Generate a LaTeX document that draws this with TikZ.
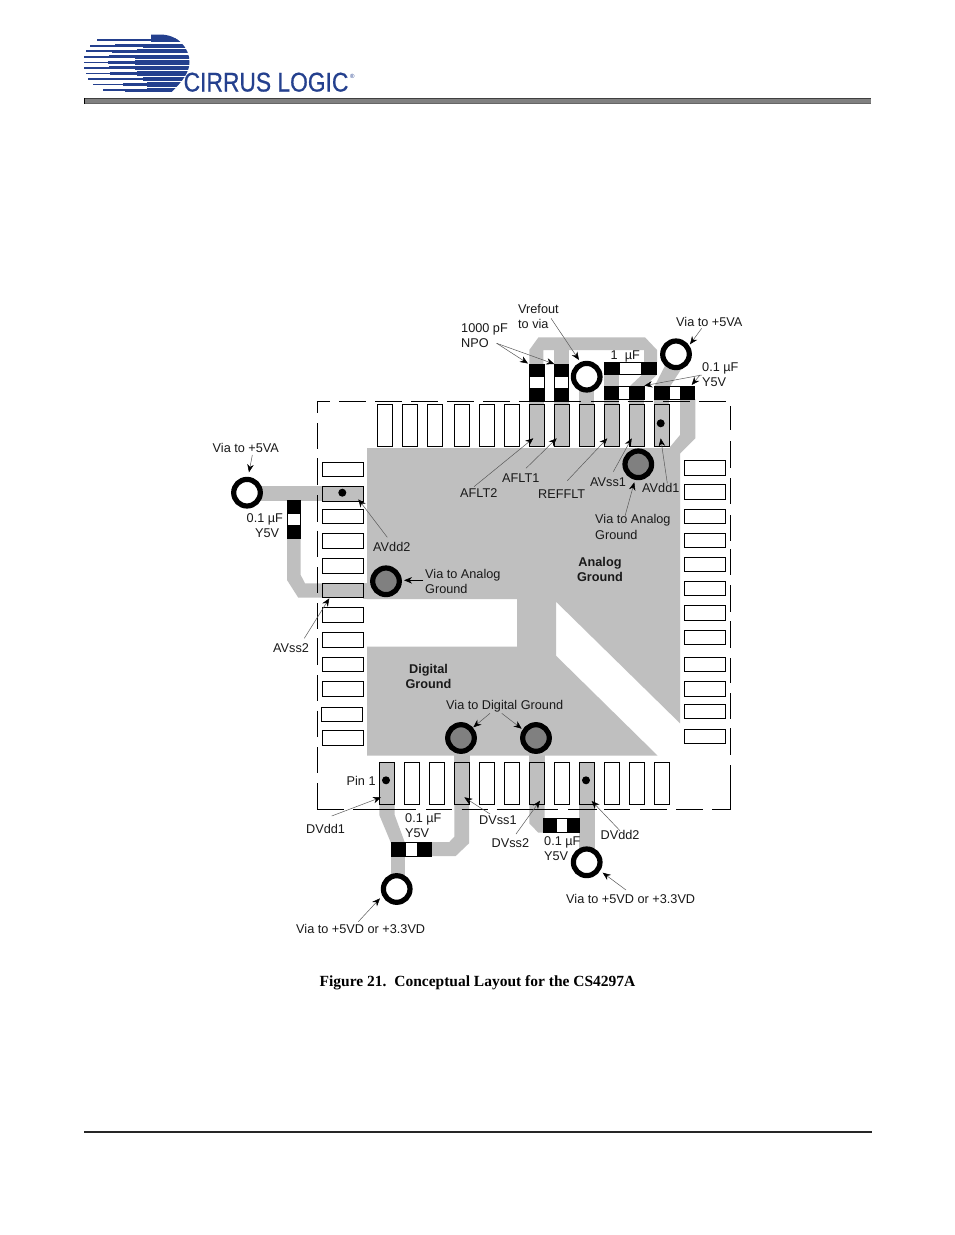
\documentclass[tikz,border=0pt]{standalone}
\usepackage{fontspec}
\setmainfont{Liberation Sans}
\newfontfamily\capfont{Liberation Serif}
\newfontfamily\logofont[FakeBold=0.7]{Liberation Sans}
\usetikzlibrary{arrows.meta}
\definecolor{plane}{gray}{0.75}
\definecolor{viagray}{gray}{0.5}
\definecolor{cirrus}{HTML}{24408E}
\tikzset{
  lab/.style={anchor=base west,inner sep=0pt,font=\fontsize{12.7}{15}\selectfont,text=black!90},
  boldlab/.style={anchor=base,inner sep=0pt,font=\fontsize{12.7}{15}\selectfont\bfseries,text=black!90},
  pinbox/.style={draw=black,line width=0.9pt,fill=white},
  gpinbox/.style={draw=black,line width=0.9pt,fill=plane},
  leadline/.style={draw=black!65,line width=0.5pt,-{Stealth[black,length=8pt,width=6.5pt]}},
  viaring/.style={draw=black,line width=5.2pt},
  edgeline/.style={draw=black,line width=1pt},
  dotmark/.style={fill=black,draw=none}
}
\newcommand{\tpin}[3]{\draw[#3] (#1,#2) rectangle ++(15,42);}
\newcommand{\lpin}[3]{\draw[pinbox] (#1,#2) rectangle (#1+41.4,#3);}
\newcommand{\hcap}[6]{\fill[black] (#1,#5) rectangle (#4,#6);\fill[white] (#2,#5+1) rectangle (#3,#6-1);\fill[black] (#1,#5) rectangle (#2,#6);\fill[black] (#3,#5) rectangle (#4,#6);}
\newcommand{\vcap}[6]{\fill[black] (#1,#3) rectangle (#2,#6);\fill[white] (#1+1,#4) rectangle (#2-1,#5);}
\newcommand{\lead}[4]{\draw[leadline] (#1,#2) -- (#3,#4);}
\newcommand{\cband}[4]{%
  \fill[cirrus] (#2,#1-0.8) rectangle (#3,#1+0.8);
  \fill[cirrus] (#3,#1-1.4) rectangle (#4,#1+1.4);
  \fill[cirrus] (#4,#1-2.25) rectangle (200,#1+2.25);}
\begin{document}
\begin{tikzpicture}[x=1pt,y=-1pt]
\useasboundingbox (0,0) rectangle (954,1235);
\fill[white] (0,0) rectangle (954,1235);

% ---------- logo
\begin{scope}
\clip (80,34.5) -- (160,34.5) .. controls (178,34.5) and (189.5,48) .. (189.5,62) .. controls (189.5,72) and (183,81) .. (171,92.5) -- (80,92.5) -- cycle;
\cband{40.2}{96.7}{151}{151}
\fill[cirrus] (151,34) rectangle (200,42.4);
\cband{45.8}{90}{115}{143}
\cband{51.2}{85.7}{111.7}{136.7}
\cband{56.8}{84.3}{109.3}{135}
\cband{62.3}{84}{108.3}{135}
\cband{67.8}{84.3}{109.3}{135}
\cband{73.3}{85.7}{110}{136.7}
\cband{79}{88.3}{113.3}{143}
\cband{84.5}{93.3}{123.3}{146.7}
\cband{90.2}{103.3}{125}{146.7}
\end{scope}
\node[anchor=base west,inner sep=0pt,xscale=0.845,text=cirrus,font=\logofont\fontsize{27}{30}\selectfont] (logotext) at (183.5,91.5) {CIRRUS LOGIC};
\node[anchor=base west,inner sep=0pt,text=cirrus,font=\fontsize{6}{7}\selectfont] (logomark) at (350,78.5) {®};
% header and footer rules
\fill[black!75] (84,97.7) rectangle (871,99);
\fill[viagray] (84,99) rectangle (871,103);
\fill[black!60] (84,103) rectangle (871,104.2);
\fill[black] (84,97.7) rectangle (85,104.2);
\fill[black!85] (84,1131.3) rectangle (871.5,1133.2);

% ---------- ground planes
\fill[plane] (367,448) -- (680,448) -- (680,723.3) -- (556,601.7) -- (556,655.7) -- (657.7,755.7) -- (367,755.7) -- (367,646.7) -- (517,646.7) -- (517,599) -- (367,599) -- cycle;

% ---------- traces
\fill[plane] (529.3,364) -- (529.3,350) -- (538.5,337.3) -- (645,337.3) -- (657,350) -- (657,362) -- (644,362) -- (644,350) -- (543.3,350) -- (543.3,364) -- cycle;
\fill[plane] (554.3,349) rectangle (569.3,365);
\fill[plane] (641.7,375) -- (630,386) -- (645,386) -- (656.7,375) -- cycle;
\fill[plane] (604.3,375) rectangle (618.6,386);
\fill[plane] (654.3,386.5) -- (670,386.5) -- (682,368) -- (668,360) -- cycle;
\foreach \px in {529.3,554.3,579.3,604.3,629.3,654.3} {\fill[plane] (\px,389) rectangle (\px+15,406);}
\fill[plane] (680,399) -- (695.3,399) -- (695.3,438.3) -- (676.7,457) -- (670,457) -- (670,447) -- (680,435) -- cycle;
\fill[plane] (247,486) rectangle (323,500.7);
\fill[plane] (287,538) -- (300.7,538) -- (300.7,575) -- (305,583.3) -- (323,583.3) -- (323,597.7) -- (298.3,597.7) -- (287,580) -- cycle;
\fill[plane] (363,583.3) rectangle (368,598.5);
% bottom traces
\fill[plane] (379.3,804) -- (394.7,804) -- (394.7,815) -- (405,843) -- (391,843) -- (379.3,815) -- cycle;
\fill[plane] (391,856) rectangle (405,882);
\fill[plane] (454.3,804) -- (469,804) -- (469,843.3) -- (455.7,856) -- (431,856) -- (431,842) -- (449.3,842) -- (454.3,836.7) -- cycle;
\fill[plane] (529.3,804) -- (544.5,804) -- (544.5,819) -- (544,832.7) -- (538.3,832.7) -- (529.3,823.3) -- cycle;
\fill[plane] (579.3,804) rectangle (594.5,860);
\fill[plane] (454.3,754) rectangle (469.7,763);
\fill[plane] (529.3,754) rectangle (544.7,763);

% ---------- pins, top row
\foreach \px in {377.5,402.5,427.5,454.3,479.3,504.3} {\tpin{\px}{404.8}{pinbox}}
\foreach \px in {529.3,554.3,579.3,604.3,629.3,654.3} {\tpin{\px}{404.8}{gpinbox}}
% pins, bottom row
\foreach \px in {404.3,429.3,479.3,504.3,554.3,604.3,629.3,654.3} {\tpin{\px}{762.4}{pinbox}}
\foreach \px in {379.3,454.3,529.3,579.3} {\tpin{\px}{762.4}{gpinbox}}
% pins, left row
\foreach \pa/\pb in {462.3/476.7,509/523.7,533.3/548.3,558.3/573.3,607.7/622.3,632.3/647.3,657.3/671.7,681.3/696,730.3/745.3} {\lpin{322.3}{\pa}{\pb}}
\lpin{321.3}{707.3}{721.7}
\draw[gpinbox] (322.3,486.3) rectangle (363.7,501);
\draw[gpinbox] (322.3,583.3) rectangle (363.7,597.7);
% pins, right row
\foreach \pa/\pb in {460.7/475,484.3/499,509/523,533/547,557/571,581.3/595.7,605.3/620.7,630.3/644.7,657.3/671.7,681.3/696.7,704.3/718.7,729.3/743.7} {\lpin{684.3}{\pa}{\pb}}

% ---------- capacitors
\vcap{529.3}{544.7}{364}{376.7}{388.3}{401.7}
\vcap{554.3}{569.3}{364}{376.7}{388.3}{401.7}
\hcap{604.3}{620}{641}{657}{361.7}{375}
\hcap{604.3}{619}{629.3}{645}{386}{400}
\hcap{654.3}{670}{680}{695}{386}{400}
\vcap{287}{300.7}{500}{514}{525}{539}
\hcap{391}{405.7}{417.3}{431.7}{842}{856.7}
\hcap{543.3}{556.7}{567.3}{580}{818}{832.7}

% ---------- dashed outline
\foreach \pa/\pb in {317.3/330,339/366,375/401.7,411/437.7,447/474,483/510,519.3/581,591/619,627.7/653,663/690,699/726}
  {\draw[edgeline] (\pa,401.3) -- (\pb,401.3);}
\foreach \pa/\pb in {317/343.5,353/416,426/451.7,461.7/488,496.7/558,568/597,604/630,640/667,676/703,712/730.8}
  {\draw[edgeline] (\pa,809.3) -- (\pb,809.3);}
\foreach \pa/\pb in {401/413,423.3/449.3,458.3/485,495/521.7,530.7/557,567/593,603/629,638/665,675/701,710.7/737.3,747.3/773.3,783.3/809.8}
  {\draw[edgeline] (317.3,\pa) -- (317.3,\pb);}
\foreach \pa/\pb in {406/430,441/468,478/504,515/541,549/575,585/611.7,621/647.7,658/683,693/719,728/755,765/809.8}
  {\draw[edgeline] (730.3,\pa) -- (730.3,\pb);}

% ---------- vias
\foreach \vx/\vy in {586.7/376.7,676/354.3,247/492.7,396.7/889,586.7/862.3}
  {\draw[viaring,fill=white] (\vx,\vy) circle (13.3);}
\foreach \vx/\vy in {638.3/464.3,386/581.3,461/738,536/738}
  {\draw[viaring,fill=viagray] (\vx,\vy) circle (13.3);}
% pin dots
\foreach \vx/\vy in {386/780.3,586/780.3,660.7/423.3,342.3/492.7}
  {\fill[dotmark] (\vx,\vy) circle (4);}

% ---------- leader lines
\lead{496.7}{343.3}{528}{363.5}
\lead{496.7}{343.3}{554.3}{364}
\lead{551}{318.3}{579}{360}
\lead{701.7}{328.3}{690}{344.3}
\lead{701.7}{375}{644.3}{385.7}
\lead{700}{375}{691.7}{385}
\lead{474}{486.7}{533.3}{438.3}
\lead{526}{468.3}{556.7}{438.3}
\lead{567.3}{480.7}{607.3}{438.3}
\lead{613.3}{471.7}{631.7}{438.3}
\lead{667.3}{483.3}{660.7}{438.3}
\lead{625}{516}{634.3}{482.3}
\lead{252.3}{455}{249}{472.3}
\lead{387.3}{537.3}{358.3}{499.3}
\draw[draw=black,line width=0.8pt,-{Stealth[black,length=8pt,width=6.5pt]}] (423.3,580.3) -- (404,580.3);
\lead{304.3}{638.3}{329.3}{598.3}
\lead{490}{713.3}{473.3}{727.3}
\lead{501.7}{713.3}{521.7}{728.7}
\lead{331.7}{816}{381}{797.3}
\lead{490}{814}{464.3}{797.3}
\lead{516}{834}{540}{800.7}
\lead{620}{830.7}{591.7}{801}
\lead{626}{890}{602.7}{872.7}
\lead{358.3}{921.7}{380}{898.3}

% ---------- labels
\node[lab] (t1) at (518,313) {Vrefout};
\node[lab] (t2) at (518,328) {to via};
\node[lab] (t3) at (461,332) {1000 pF};
\node[lab] (t4) at (461,347) {NPO};
\node[lab] (t5) at (676,326) {Via to +5VA};
\node[lab] (t6) at (610.5,359) {1\ \ µF};
\node[lab] (t7) at (702,371) {0.1 µF};
\node[lab] (t8) at (702,386) {Y5V};
\node[lab] (t9) at (460,497) {AFLT2};
\node[lab] (t10) at (502,482) {AFLT1};
\node[lab] (t11) at (538,498) {REFFLT};
\node[lab] (t12) at (590,486) {AVss1};
\node[lab] (t13) at (642,492) {AVdd1};
\node[lab] (t14) at (595,523) {Via to Analog};
\node[lab] (t15) at (595,539) {Ground};
\node[boldlab] (t16) at (600,566) {Analog};
\node[boldlab] (t17) at (600,581) {Ground};
\node[lab] (t18) at (212.5,452) {Via to +5VA};
\node[lab] (t19) at (246.5,522) {0.1 µF};
\node[lab] (t20) at (255,537) {Y5V};
\node[lab] (t21) at (373,551) {AVdd2};
\node[lab] (t22) at (425,578) {Via to Analog};
\node[lab] (t23) at (425,593) {Ground};
\node[lab] (t24) at (273,652) {AVss2};
\node[boldlab] (t25) at (428.5,673) {Digital};
\node[boldlab] (t26) at (428.5,688) {Ground};
\node[lab] (t27) at (446,709) {Via to Digital Ground};
\node[lab] (t28) at (346.5,785) {Pin 1};
\node[lab] (t29) at (306,833) {DVdd1};
\node[lab] (t30) at (405,822) {0.1 µF};
\node[lab] (t31) at (405,837) {Y5V};
\node[lab] (t32) at (479,824) {DVss1};
\node[lab] (t33) at (491.5,847) {DVss2};
\node[lab] (t34) at (544,845) {0.1 µF};
\node[lab] (t35) at (544,860) {Y5V};
\node[lab] (t36) at (600.5,839) {DVdd2};
\node[lab] (t37) at (566,903) {Via to +5VD or +3.3VD};
\node[lab] (t38) at (296,933) {Via to +5VD or +3.3VD};
\node[anchor=base west,inner sep=0pt,font=\capfont\fontsize{15.5}{18}\selectfont\bfseries] (cap) at (319.5,986) {Figure 21.\ \ Conceptual Layout for the CS4297A};
\end{tikzpicture}
\end{document}
